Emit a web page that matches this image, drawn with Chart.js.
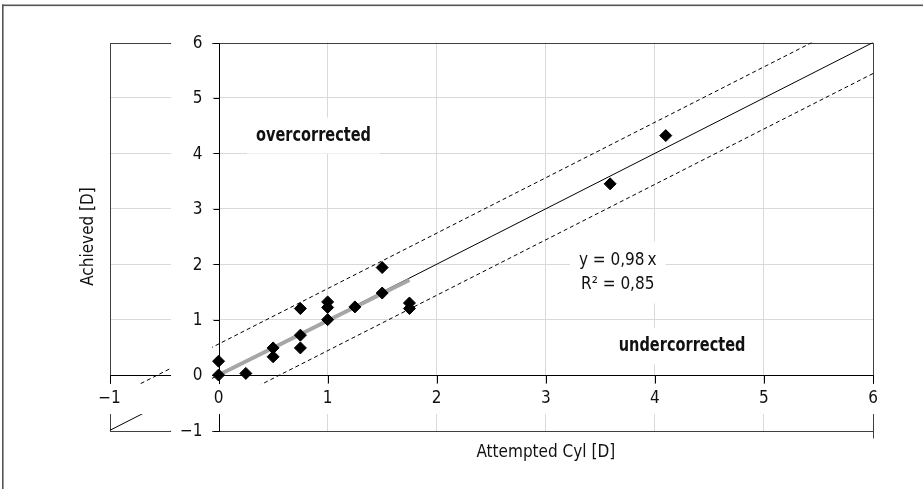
<!DOCTYPE html>
<html>
<head>
<meta charset="utf-8">
<script src="https://cdn.jsdelivr.net/npm/chart.js@4"></script>
<style>
    html, body { margin: 0; padding: 0; background: #fff; }
    #wrap { position: relative; width: 923px; height: 489px; }
</style>
</head>
<body>
<div id="wrap"><canvas id="cylChart"></canvas></div>
<script>
// Eyes: attempted vs achieved cylinder correction
const attemptedCyl = [0, 0, 0.25, 0.5, 0.5, 0.75, 0.75, 0.75, 1, 1, 1, 1.25, 1.5, 1.5, 1.75, 1.75, 3.59, 4.1];
const achievedCyl = [0.25, 0, 0.03, 0.49, 0.33, 1.2, 0.72, 0.49, 1.32, 1.22, 1, 1.23, 1.94, 1.48, 1.3, 1.2, 3.45, 4.32];

// Regression over the data range, and the identity line with its +/- band
const trendX = [0, 1.75];
const trendY = [0, 1.715];
const identityX = [-1, 6];
const identityY = [-1, 6];
const upperX = [-1, 5.44];
const upperY = [-0.44, 6];
const lowerX = [-0.44, 6];
const lowerY = [-1, 5.44];

// Axis ticks
const xTicks = [-1, 0, 1, 2, 3, 4, 5, 6];
const yTicks = [-1, 0, 1, 2, 3, 4, 5, 6];

const FONT = "'Liberation Sans Narrow', 'DejaVu Sans Condensed', 'Roboto', sans-serif";
const GRID = '#d9d9d9';
const NARROW = 0.85; // the bold notes use a tighter face in the original

function toPoints(xs, ys) {
    return xs.map((v, i) => ({ x: v, y: ys[i] }));
}

function tickText(v) {
    return v < 0 ? '\u2212' + Math.abs(v) : String(v);
}

// Notes placed in data units, each on a white box
const notes = [
    { lines: ['overcorrected'], x: 0.87, y: 4.32, bold: true },
    { lines: ['y = 0,98\u2009x', 'R\u00b2 = 0,85'], x: 3.66, y: 1.85, bold: false },
    { lines: ['undercorrected'], x: 4.25, y: 0.52, bold: true }
];

function line(ctx, x1, y1, x2, y2) {
    ctx.beginPath();
    ctx.moveTo(x1, y1);
    ctx.lineTo(x2, y2);
    ctx.stroke();
}

// Axes crossing at zero, with label strips cut through the plot box
const crossAxes = {
    id: 'crossAxes',
    beforeDraw(chart) {
        const ctx = chart.ctx;
        ctx.save();
        ctx.fillStyle = '#fff';
        ctx.fillRect(0, 0, chart.width, chart.height);
        ctx.fillStyle = '#555';
        ctx.fillRect(2, 4.5, chart.width - 2, 1.6);
        ctx.fillRect(2, 4.5, 1.6, chart.height - 4.5);
        ctx.restore();
    },
    beforeDatasetsDraw(chart) {
        const { ctx, chartArea: a, scales: { x, y } } = chart;
        const x0 = Math.round(x.getPixelForValue(0)) + 0.5;
        const y0 = Math.round(y.getPixelForValue(0)) + 0.5;
        const L = Math.round(a.left) + 0.5, R = Math.round(a.right) + 0.5;
        const T = Math.round(a.top) + 0.5, B = Math.round(a.bottom) + 0.5;
        ctx.save();
        ctx.lineWidth = 1;
        ctx.strokeStyle = '#404040';
        ctx.strokeRect(L, T, R - L, B - T);
        line(ctx, R, B, R, B + 7);

        ctx.strokeStyle = '#000';
        line(ctx, x0, T, x0, B);
        line(ctx, L, y0, R, y0);
        yTicks.forEach(v => {
            const py = Math.round(y.getPixelForValue(v)) + 0.5;
            line(ctx, x0 - 6, py, x0, py);
        });
        xTicks.forEach(v => {
            const px = Math.round(x.getPixelForValue(v)) + 0.5;
            line(ctx, px, y0, px, y0 + 8);
        });

        // notes with white boxes
        ctx.textAlign = 'center';
        ctx.textBaseline = 'middle';
        notes.forEach(n => {
            ctx.font = (n.bold ? 'bold 19px ' : '17px ') + FONT;
            const sx = n.bold ? NARROW : 1;
            const lh = n.bold ? 22 : 24;
            const w = sx * Math.max(...n.lines.map(s => ctx.measureText(s).width));
            const cx = x.getPixelForValue(n.x);
            const cy = y.getPixelForValue(n.y);
            const h = lh * n.lines.length;
            ctx.fillStyle = '#fff';
            ctx.fillRect(cx - w / 2 - 9, cy - h / 2 - 7, w + 18, h + 14);
            ctx.fillStyle = '#111';
            n.lines.forEach((s, i) => {
                ctx.save();
                ctx.translate(cx, cy - h / 2 + lh * (i + 0.5));
                ctx.scale(sx, 1);
                ctx.fillText(s, 0, 0);
                ctx.restore();
            });
        });
        ctx.restore();
    },
    afterDatasetsDraw(chart) {
        const { ctx, chartArea: a, scales: { x, y } } = chart;
        const x0 = x.getPixelForValue(0);
        const y0 = y.getPixelForValue(0);
        ctx.save();
        // white strips behind the tick labels
        ctx.fillStyle = '#fff';
        ctx.fillRect(x0 - 47.5, a.top - 3, 41, a.bottom - a.top + 6);
        ctx.fillRect(a.left - 3, y0 + 9, a.right - a.left + 6, 30);

        ctx.fillStyle = '#111';
        ctx.font = '17px ' + FONT;
        ctx.textAlign = 'right';
        ctx.textBaseline = 'middle';
        yTicks.forEach(v => ctx.fillText(tickText(v), x0 - 16, y.getPixelForValue(v) + 1));
        ctx.textAlign = 'center';
        xTicks.forEach(v => ctx.fillText(tickText(v), x.getPixelForValue(v), y0 + 24));

        // axis titles
        ctx.fillText('Attempted Cyl [D]', (x0 + a.right) / 2, a.bottom + 22);
        ctx.translate(a.left - 21, (a.top + a.bottom) / 2);
        ctx.rotate(-Math.PI / 2);
        ctx.fillText('Achieved [D]', 0, 0);
        ctx.restore();
    }
};

const ctx = document.getElementById('cylChart').getContext('2d');

new Chart(ctx, {
    type: 'scatter',
    data: {
        datasets: [
            {
                label: 'Eyes',
                data: toPoints(attemptedCyl, achievedCyl),
                pointStyle: 'rectRot',
                pointRadius: 6,
                pointBackgroundColor: '#000',
                pointBorderColor: '#000',
                pointBorderWidth: 1
            },
            {
                label: 'Trend',
                data: toPoints(trendX, trendY),
                showLine: true,
                borderColor: '#a6a6a6',
                borderWidth: 4,
                pointRadius: 0
            },
            {
                label: 'y = x',
                data: toPoints(identityX, identityY),
                showLine: true,
                borderColor: '#000',
                borderWidth: 1,
                pointRadius: 0
            },
            {
                label: 'upper',
                data: toPoints(upperX, upperY),
                showLine: true,
                borderColor: '#000',
                borderWidth: 1,
                borderDash: [4, 3],
                pointRadius: 0
            },
            {
                label: 'lower',
                data: toPoints(lowerX, lowerY),
                showLine: true,
                borderColor: '#000',
                borderWidth: 1,
                borderDash: [4, 3],
                pointRadius: 0
            }
        ]
    },
    options: {
        responsive: true,
        maintainAspectRatio: false,
        animation: false,
        layout: {
            padding: { left: 109.5, right: 50, top: 42.5, bottom: 58.5 }
        },
        plugins: {
            legend: { display: false },
            tooltip: { enabled: false }
        },
        scales: {
            x: {
                type: 'linear',
                min: -1,
                max: 6,
                ticks: { display: false, stepSize: 1 },
                border: { display: false },
                grid: {
                    drawTicks: false,
                    color: c => [-1, 0, 6].includes(c.tick && c.tick.value) ? 'rgba(0,0,0,0)' : GRID
                }
            },
            y: {
                type: 'linear',
                min: -1,
                max: 6,
                ticks: { display: false, stepSize: 1 },
                border: { display: false },
                grid: {
                    drawTicks: false,
                    color: c => [-1, 0, 6].includes(c.tick && c.tick.value) ? 'rgba(0,0,0,0)' : GRID
                }
            }
        }
    },
    plugins: [crossAxes]
});
</script>
</body>
</html>
